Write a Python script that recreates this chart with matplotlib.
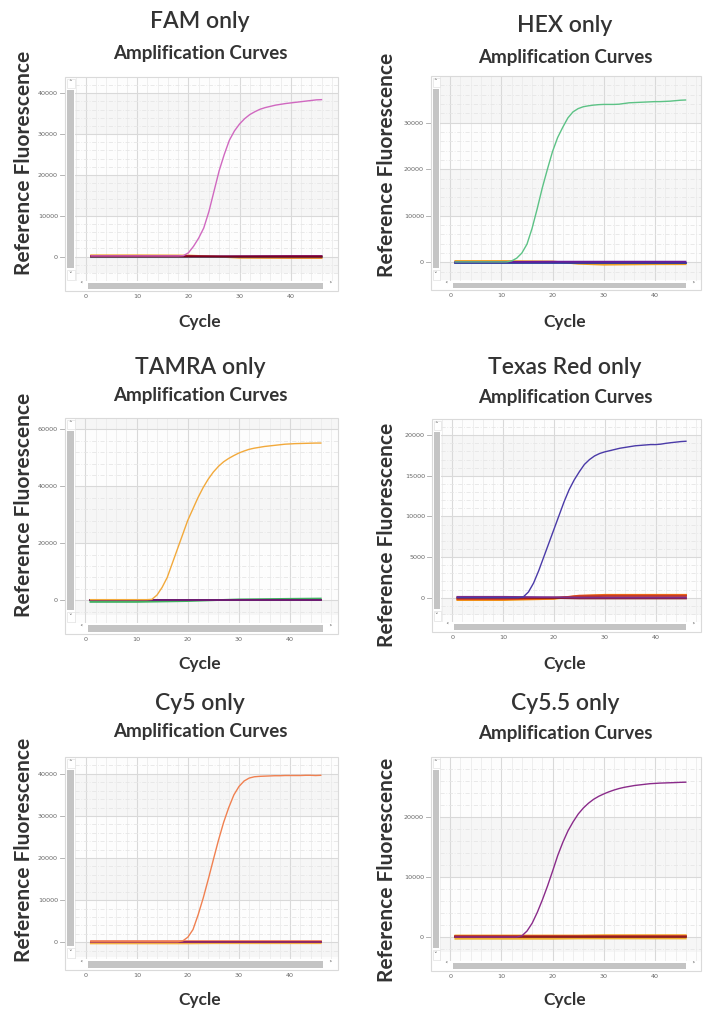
import matplotlib
matplotlib.use("Agg")
import matplotlib.pyplot as plt
from matplotlib.patches import Rectangle
from matplotlib.lines import Line2D
from matplotlib import transforms

# ---------------- data ----------------
cycles = list(range(1, 47))

fam_curve = [150, 150, 150, 150, 150, 150, 150, 150, 150, 150, 150, 150, 150, 150, 150, 150, 150, 150,
             200, 900, 2500, 4500, 7000, 11000, 16000, 21000, 25000, 28500, 30800, 32500, 33800, 34800,
             35500, 36100, 36500, 36800, 37100, 37300, 37500, 37650, 37800, 37950, 38100, 38250, 38400, 38450]
hex_curve = [100, 100, 100, 100, 100, 100, 100, 100, 100, 100, 100,
             300, 900, 2000, 3900, 7300, 11500, 16000, 20000, 23800, 26800, 29000, 31000, 32300, 33000,
             33400, 33600, 33750, 33850, 33900, 33900, 33900, 33950, 34100, 34250, 34300, 34350, 34400,
             34450, 34500, 34500, 34550, 34600, 34700, 34800, 34850]
tamra_curve = [200, 200, 200, 200, 200, 200, 200, 200, 200, 200, 200, 200,
               300, 1800, 4500, 8000, 13000, 18000, 23000, 28000, 32000, 36000, 39500, 42500, 45000,
               47000, 48600, 49800, 50800, 51700, 52400, 53000, 53400, 53700, 54000, 54200, 54400, 54600,
               54800, 54900, 55000, 55050, 55100, 55150, 55200, 55200]
texasred_curve = [0, 0, 0, 0, 0, 0, 0, 0, 0, 0, 0, 0, 0,
                  100, 700, 1800, 3300, 5000, 6700, 8400, 10100, 11800, 13300, 14500, 15500, 16400, 17000,
                  17450, 17750, 17950, 18100, 18250, 18400, 18500, 18600, 18700, 18750, 18800, 18850, 18850,
                  18900, 19000, 19080, 19150, 19220, 19260]
cy5_curve = [100, 100, 100, 100, 100, 100, 100, 100, 100, 100, 100, 100, 100, 100, 100, 100, 100, 100,
             300, 1200, 3000, 6500, 10500, 15000, 19700, 24300, 28500, 32000, 35000, 37000, 38300, 39000,
             39300, 39400, 39450, 39500, 39550, 39550, 39600, 39600, 39600, 39600, 39650, 39650, 39600, 39650]
cy55_curve = [0, 0, 0, 0, 0, 0, 0, 0, 0, 0, 0, 0, 0,
              200, 1000, 2300, 4100, 6200, 8500, 11000, 13600, 15800, 17700, 19200, 20500, 21500, 22300,
              22950, 23450, 23850, 24200, 24500, 24750, 24950, 25100, 25250, 25350, 25450, 25550, 25600,
              25650, 25680, 25710, 25740, 25780, 25800]

# baseline (non-amplifying) wells, sampled at these cycles
base_cycles = [1, 10, 20, 25, 30, 40, 46]
fam_base = {
    "#f0a020": [300, 300, 250, 0, -300, -350, -350],
    "#d03a20": [150, 150, 100, -50, -150, -200, -200],
    "#3050b0": [-150, -150, -150, -100, -50, 0, 0],
    "#40a060": [-100, -100, -100, -50, -50, -50, -50],
    "#8a2070": [0, 0, 0, 50, 100, 150, 150],
    "#800020": [50, 50, 50, 0, -50, -50, -50],
}
hex_base = {
    "#f0a020": [300, 300, 200, -300, -500, -400, -400],
    "#d03a20": [0, 0, 100, 0, -100, -100, -100],
    "#2a3aa0": [-50, -50, -50, -50, -50, -50, -50],
    "#6a1b9a": [100, 100, 150, 150, 150, 150, 150],
}
tamra_base = {
    "#40b060": [-600, -600, -300, 0, 300, 500, 600],
    "#8b1a1a": [200, 200, 200, 200, 200, 200, 200],
    "#6a1b7a": [0, 0, 0, 0, 0, 0, 0],
}
texasred_base = {
    "#f39c12": [-300, -300, -150, 200, 350, 350, 350],
    "#e8501a": [-200, -200, -100, 250, 300, 300, 300],
    "#c0392b": [-100, -100, 0, 150, 200, 200, 200],
    "#8b1a1a": [0, 0, -50, -100, -100, -100, -100],
    "#7b2d8b": [100, 100, 50, 0, 0, 0, 0],
}
cy5_base = {
    "#f5b041": [-300, -300, -300, -250, -250, -250, -250],
    "#f08060": [350, 350, 350, 350, 350, 350, 350],
    "#8b1a1a": [0, 0, 0, 0, 0, 0, 0],
    "#8e2a6e": [100, 100, 100, 100, 100, 100, 100],
}
cy55_base = {
    "#f0b030": [-300, -300, -300, -250, -250, -250, -250],
    "#f39c12": [250, 250, 250, 250, 300, 300, 300],
    "#c0392b": [100, 100, 100, 100, 100, 100, 100],
    "#8b1a1a": [0, 0, 0, 0, 0, 0, 0],
}

titles = ["FAM only", "HEX only", "TAMRA only", "Texas Red only", "Cy5 only", "Cy5.5 only"]
curves = [fam_curve, hex_curve, tamra_curve, texasred_curve, cy5_curve, cy55_curve]
curve_colors = ["#d068c0", "#5cc285", "#f2a93b", "#4a3aa8", "#f08050", "#8a2b8a"]
baselines = [fam_base, hex_base, tamra_base, texasred_base, cy5_base, cy55_base]
ytick_sets = [
    [0, 10000, 20000, 30000, 40000],
    [0, 10000, 20000, 30000],
    [0, 20000, 40000, 60000],
    [0, 5000, 10000, 15000, 20000],
    [0, 10000, 20000, 30000, 40000],
    [0, 10000, 20000],
]
xtick_labels = [0, 10, 20, 30, 40]
subtitle = "Amplification Curves"
ylabel = "Reference Fluorescence"
xlabel = "Cycle"

# ---------------- layout (pixel geometry) ----------------
W, H = 706, 1011
fig = plt.figure(figsize=(W / 100, H / 100), dpi=100)
fig.patch.set_facecolor("white")

FONT = ["Lato", "DejaVu Sans"]
TXT = "#333333"

# box: left, top, right, grid-bottom, box-bottom, scroll column width
boxes = [
    (65, 77, 338, 281, 291, 10),
    (431, 76, 701, 281, 290, 9),
    (65, 418, 338, 623, 634, 10),
    (432, 419, 701, 622, 632, 9),
    (65, 757, 338, 959, 970, 10),
    (431, 757, 701, 961, 971, 9),
]
# cycle-0 x px, px per cycle, y px of 0, px per unit
maps = [
    (86.0, 5.12, 263.0, 4.425 / 1000),
    (450.0, 5.12, 262.3, 4.853 / 1000),
    (85.3, 5.12, 607.0, 3.1 / 1000),
    (452.3, 5.08, 603.3, 8.7 / 1000),
    (85.7, 5.11, 943.3, 4.33 / 1000),
    (450.0, 5.125, 944.0, 6.615 / 1000),
]
# text centers: title y, subtitle y, ylabel (x, y), xlabel y, column center x
texts = [
    (22, 53, 24, 163, 322, 200),
    (26, 57, 387, 165, 322, 565),
    (367, 396, 24, 505, 664, 200),
    (367, 397, 387, 535, 664, 565),
    (703, 732, 24, 850, 1000, 200),
    (704, 733, 387, 870, 1000, 565),
]


def frect(x0, y0, x1, y1, **kw):
    r = Rectangle((x0 / W, 1 - y1 / H), (x1 - x0) / W, (y1 - y0) / H,
                  transform=fig.transFigure, **kw)
    fig.add_artist(r)
    return r


def ftext(x, y, s, **kw):
    return fig.text(x / W, 1 - y / H, s, **kw)


for i in range(6):
    bl, bt, br, gb, bb, col = boxes[i]
    gl, gt, gr = bl + col, bt, br
    x0, ppc, y0, ppu = maps[i]
    ax = fig.add_axes([gl / W, 1 - gb / H, (gr - gl) / W, (gb - gt) / H])
    ax.set_facecolor("#fdfdfd")
    ax.set_xlim((gl - x0) / ppc, (gr - x0) / ppc)
    ylo, yhi = (y0 - gb) / ppu, (y0 - gt) / ppu
    ax.set_ylim(ylo, yhi)
    yt = ytick_sets[i]
    step = yt[1] - yt[0]
    # alternating bands
    ax.axhspan(ylo, 0, color="#f6f6f6", zorder=0, lw=0)
    k = 1
    while k * step < yhi:
        if k % 2 == 1:
            ax.axhspan(k * step, (k + 1) * step, color="#f6f6f6", zorder=0, lw=0)
        k += 1
    ax.set_xticks(xtick_labels)
    ax.set_xticks(list(range(-2, 50, 2)), minor=True)
    ax.set_yticks(yt)
    mstep = step / 5
    ax.set_yticks([j * mstep for j in range(int(ylo // mstep), int(yhi // mstep) + 2)], minor=True)
    ax.grid(which="major", color="#d9d9d9", lw=0.8, zorder=0.5)
    ax.grid(which="minor", axis="x", color="#ececec", lw=0.6, zorder=0.4)
    ax.grid(which="minor", axis="y", color="#e6e6e6", lw=0.6, ls=(0, (5, 2, 1, 2)), zorder=0.4)
    ax.set_axisbelow(True)
    for s in ax.spines.values():
        s.set_visible(False)
    ax.tick_params(axis="both", which="both", length=0, labelsize=4.6, labelcolor="#666666")
    ax.tick_params(axis="x", pad=(bb - gb + 3) * 0.72)
    ax.tick_params(axis="y", pad=(gl - bl + 7) * 0.72)
    # y tick marks left of the box
    tr = transforms.blended_transform_factory(ax.transAxes, ax.transData)
    for v in yt:
        ax.add_line(Line2D([(bl - 5 - gl) / (gr - gl), (bl - gl) / (gr - gl)], [v, v],
                           transform=tr, color="#aaaaaa", lw=0.6, clip_on=False))
    # data
    for c, vals in baselines[i].items():
        ax.plot(base_cycles, vals, color=c, lw=1.3, zorder=2)
    ax.plot(cycles, curves[i], color=curve_colors[i], lw=1.0, zorder=3)

    # frame + scrollbars
    frect(bl, bt, br, bb, facecolor="none", edgecolor="#dadada", lw=0.8, zorder=5)
    frect(bl + 0.5, bt + 0.5, gl, bb - 0.5, facecolor="white", edgecolor="none", zorder=4)
    frect(gl, gb, br - 0.5, bb - 0.5, facecolor="white", edgecolor="none", zorder=4)
    frect(bl + 2, bt + 13, gl - 1, gb - 13, facecolor="#c4c4c4", edgecolor="none", zorder=6)
    frect(bl + 1.5, bt + 1.5, gl - 0.5, bt + 11, facecolor="white", edgecolor="#e2e2e2", lw=0.5, zorder=6)
    frect(bl + 1.5, gb - 11, gl - 0.5, gb - 1.5, facecolor="white", edgecolor="#e2e2e2", lw=0.5, zorder=6)
    ftext((bl + gl) / 2, bt + 6, "˄", ha="center", va="center", fontsize=5, color="#555555", zorder=7)
    ftext((bl + gl) / 2, gb - 6, "˅", ha="center", va="center", fontsize=5, color="#555555", zorder=7)
    frect(gl + 13, gb + 2, gr - 15, bb - 2, facecolor="#c4c4c4", edgecolor="none", zorder=6)
    ftext(gl + 6, (gb + bb) / 2, "˂", ha="center", va="center", fontsize=5, color="#555555", zorder=7)
    ftext(gr - 8, (gb + bb) / 2, "˃", ha="center", va="center", fontsize=5, color="#555555", zorder=7)

    # titles / labels
    ty, sy, lx, ly, xy, cx = texts[i]
    ftext(cx, ty, titles[i], ha="center", va="center", fontsize=16.5, color=TXT,
          family=FONT, fontweight="semibold")
    ftext(cx, sy, subtitle, ha="center", va="center", fontsize=13.5, color=TXT,
          family=FONT, fontweight="bold")
    ftext(lx, ly, ylabel, ha="center", va="center", rotation=90, fontsize=15, color=TXT,
          family=FONT, fontweight="bold")
    ftext(cx, xy, xlabel, ha="center", va="center", fontsize=12.5, color=TXT,
          family=FONT, fontweight="bold")

fig.savefig("out.png", dpi=100)
